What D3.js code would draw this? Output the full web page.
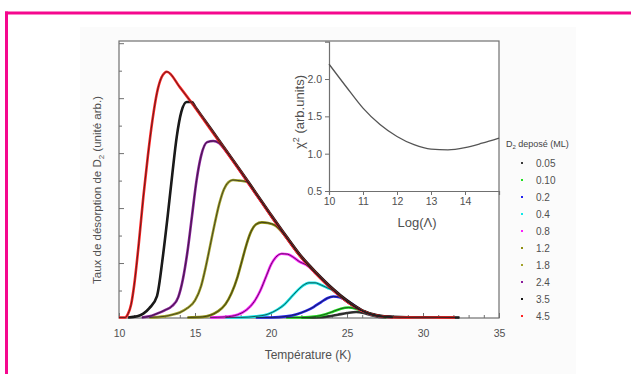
<!DOCTYPE html>
<html>
<head>
<meta charset="utf-8">
<script src="https://cdnjs.cloudflare.com/ajax/libs/d3/7.8.5/d3.min.js"></script>
<style>
  body { margin: 0; background: #fff; }
  svg { display: block; font-family: "Liberation Sans", Arial, sans-serif; }
</style>
</head>
<body>
<div id="chart"></div>
<script>
// coverages (ML) and their colours, legend order
const coverages = ['0.05', '0.10', '0.2', '0.4', '0.8', '1.2', '1.8', '2.4', '3.5', '4.5'];
const colors = ['#3a3a3a', '#1fe01f', '#2222ee', '#10e8e8', '#ff1cff', '#8e8e10', '#a2a22a', '#8b1c9c', '#161616', '#ff2222'];

// desorption spectra: temperature (K) / rate (arb.)
const t005 = [22, 23, 23.8, 24.4, 25.0, 25.6, 26.1, 26.6, 27.1, 27.6];
const r005 = [0.005, 0.01, 0.03, 0.06, 0.09, 0.11, 0.09, 0.05, 0.02, 0.01];
const t010 = [21, 22, 23, 23.6, 24.1, 24.6, 25.1, 25.6, 26.1, 26.6, 27, 27.5, 28];
const r010 = [0.01, 0.01, 0.03, 0.07, 0.12, 0.17, 0.19, 0.17, 0.12, 0.07, 0.04, 0.02, 0.01];
const t02 = [19, 20, 21, 21.7, 22.3, 22.8, 23.3, 23.7, 24.1, 24.5, 24.9, 25.3, 26, 27, 28];
const r02 = [0.01, 0.01, 0.03, 0.07, 0.13, 0.2, 0.29, 0.36, 0.39, 0.38, 0.33, 0.26, 0.13, 0.04, 0.015];
const t04 = [17, 18, 19, 19.8, 20.4, 20.9, 21.3, 21.7, 22.1, 22.5, 22.9, 23.3, 23.7, 24.1, 25, 26, 27, 28];
const r04 = [0.01, 0.01, 0.03, 0.07, 0.15, 0.25, 0.37, 0.49, 0.59, 0.64, 0.64, 0.6, 0.55, 0.5, 0.3, 0.13, 0.04, 0.015];
const t08 = [16, 17, 17.8, 18.4, 18.9, 19.3, 19.7, 20.0, 20.3, 20.7, 21.1, 21.5, 21.9, 22.3, 23, 24, 25, 26, 27, 28];
const r08 = [0.01, 0.02, 0.06, 0.15, 0.3, 0.5, 0.77, 0.97, 1.1, 1.17, 1.16, 1.1, 1.02, 0.97, 0.8, 0.53, 0.3, 0.13, 0.04, 0.015];
const t12 = [14.5, 15.5, 16, 16.5, 17, 17.4, 17.8, 18.1, 18.4, 18.7, 19, 19.4, 19.8, 20.3, 21, 22, 23, 24, 25, 26, 27, 28];
const r12 = [0.01, 0.02, 0.05, 0.12, 0.25, 0.45, 0.75, 1.05, 1.35, 1.58, 1.7, 1.74, 1.73, 1.68, 1.47, 1.1, 0.8, 0.53, 0.3, 0.13, 0.04, 0.015];
const t18 = [12, 13, 13.5, 14, 14.5, 15, 15.4, 15.7, 16, 16.3, 16.6, 16.9, 17.2, 17.5, 17.9, 18.4, 19, 20, 21, 22, 23, 24, 25, 26, 27, 28];
const r18 = [0.01, 0.03, 0.06, 0.1, 0.18, 0.32, 0.58, 0.92, 1.32, 1.72, 2.08, 2.34, 2.47, 2.51, 2.5, 2.48, 2.26, 1.86, 1.47, 1.1, 0.8, 0.53, 0.3, 0.13, 0.04, 0.015];
const t24 = [11.5, 12, 12.5, 13, 13.5, 13.9, 14.2, 14.5, 14.8, 15.1, 15.4, 15.8, 16.2, 16.6, 17, 18, 19, 20, 21, 22, 23, 24, 25, 26, 27, 28];
const r24 = [0.01, 0.03, 0.08, 0.14, 0.22, 0.38, 0.7, 1.2, 1.85, 2.5, 2.95, 3.2, 3.22, 3.18, 3.05, 2.66, 2.26, 1.86, 1.47, 1.1, 0.8, 0.53, 0.3, 0.13, 0.04, 0.015];
const t35 = [10.6, 11.2, 11.6, 12, 12.5, 12.9, 13.2, 13.5, 13.8, 14.1, 14.45, 14.8, 15, 16, 17, 18, 19, 20, 21, 22, 23, 24, 25, 26, 27, 28, 29, 30, 31, 32.4];
const r35 = [0.01, 0.03, 0.08, 0.18, 0.4, 1.15, 1.85, 2.6, 3.3, 3.75, 3.93, 3.93, 3.85, 3.46, 3.07, 2.68, 2.28, 1.88, 1.49, 1.12, 0.82, 0.55, 0.32, 0.14, 0.05, 0.02, 0.015, 0.015, 0.015, 0.01];
const t45 = [10, 10.4, 10.6, 10.8, 11, 11.3, 11.6, 11.9, 12.2, 12.5, 12.8, 13, 13.15, 14, 15, 16, 17, 18, 19, 20, 21, 22, 23, 24, 25, 26, 27, 28, 29, 30, 31, 32.1];
const r45 = [0.01, 0.01, 0.08, 0.25, 0.6, 1.35, 2.2, 2.95, 3.6, 4.1, 4.38, 4.46, 4.48, 4.2, 3.83, 3.44, 3.05, 2.66, 2.26, 1.86, 1.47, 1.1, 0.8, 0.53, 0.3, 0.13, 0.04, 0.015, 0.012, 0.015, 0.012, 0.01];

// inset: chi^2 against log(Lambda)
const logLambda = [10, 10.5, 11, 11.5, 12, 12.5, 13, 13.5, 14, 14.5, 15];
const chi2 = [2.2, 1.9, 1.61, 1.39, 1.23, 1.12, 1.06, 1.05, 1.08, 1.14, 1.21];

// tick labels
const xTicks = [10, 15, 20, 25, 30, 35];
const yTicks = [1, 2, 3, 4, 5];
const insetXTicks = [10, 11, 12, 13, 14];
const insetYTicks = [0.5, 1.0, 1.5, 2.0];

const series = [[t005, r005], [t010, r010], [t02, r02], [t04, r04], [t08, r08],
                [t12, r12], [t18, r18], [t24, r24], [t35, r35], [t45, r45]]
  .map((s, i) => ({ cov: coverages[i], color: colors[i], pts: d3.zip(s[0], s[1]) }));

const width = 631, height = 374;
const axisColor = '#707070', textColor = '#505050';

const svg = d3.select('#chart').append('svg')
  .attr('width', width).attr('height', height);

// faint panel behind the figure
svg.append('rect')
  .attr('x', 80).attr('y', 27).attr('width', 496).attr('height', 347)
  .attr('fill', '#fbfbfb');

// pink page frame
svg.append('line').attr('x1', 5).attr('x2', width).attr('y1', 13).attr('y2', 13)
  .attr('stroke', '#f5088e').attr('stroke-width', 3);
svg.append('line').attr('x1', 6.5).attr('x2', 6.5).attr('y1', 11.5).attr('y2', height)
  .attr('stroke', '#f5088e').attr('stroke-width', 3);

// main plot
const x = d3.scaleLinear().domain([10, 35]).range([119, 499]);
const y = d3.scaleLinear().domain([0, 5.04]).range([318, 41]);

svg.append('rect')
  .attr('x', x(10)).attr('y', y(5.04)).attr('width', x(35) - x(10)).attr('height', y(0) - y(5.04))
  .attr('fill', '#fff').attr('stroke', axisColor).attr('stroke-width', 1.2);

function styleAxis(g) {
  g.select('.domain').remove();
  g.selectAll('.tick line').attr('stroke', axisColor).attr('stroke-width', 1);
  g.selectAll('.tick text').attr('fill', textColor).attr('font-size', 10.5);
}

const xMinor = d3.range(11, 35).filter(v => v % 5 !== 0);
const yMinor = d3.range(0.5, 5, 1);

svg.append('g').attr('transform', `translate(0,${y(0)})`)
  .call(d3.axisBottom(x).tickValues(xTicks).tickSize(-5).tickPadding(12).tickFormat(d3.format('d')))
  .call(styleAxis);
svg.append('g').attr('transform', `translate(0,${y(0)})`)
  .call(d3.axisBottom(x).tickValues(xMinor).tickSize(-3).tickFormat(''))
  .call(styleAxis);
svg.append('g').attr('transform', `translate(${x(10)},0)`)
  .call(d3.axisLeft(y).tickValues(yTicks).tickSize(-5).tickFormat(''))
  .call(styleAxis);
svg.append('g').attr('transform', `translate(${x(10)},0)`)
  .call(d3.axisLeft(y).tickValues(yMinor).tickSize(-3).tickFormat(''))
  .call(styleAxis);

// data (coloured) then fits (thin black)
const line = d3.line()
  .x(d => x(d[0]))
  .y(d => y(d[1]))
  .curve(d3.curveMonotoneX);

svg.append('g').selectAll('path')
  .data(series)
  .enter()
  .append('path')
  .attr('d', d => line(d.pts))
  .attr('fill', 'none')
  .attr('stroke', d => d.color)
  .attr('stroke-width', 2.6)
  .attr('stroke-linejoin', 'round');

svg.append('g').selectAll('path')
  .data(series)
  .enter()
  .append('path')
  .attr('d', d => line(d.pts))
  .attr('fill', 'none')
  .attr('stroke', '#202020')
  .attr('stroke-opacity', 0.8)
  .attr('stroke-width', 0.9);

// axis titles
svg.append('text')
  .attr('x', 308).attr('y', 359)
  .attr('text-anchor', 'middle').attr('font-size', 12).attr('fill', textColor)
  .text('Température (K)');

const yTitle = svg.append('text')
  .attr('transform', 'translate(101,190) rotate(-90)')
  .attr('text-anchor', 'middle').attr('font-size', 11.5).attr('fill', textColor);
yTitle.append('tspan').text('Taux de désorption de D');
yTitle.append('tspan').attr('font-size', 8).attr('dy', 3).text('2');
yTitle.append('tspan').attr('dy', -3).text(' (unité arb.)');

// inset
const xi = d3.scaleLinear().domain([10, 15]).range([329, 499]);
const yi = d3.scaleLinear().domain([0.5, 2.5]).range([191, 41.7]);

svg.append('g').attr('transform', `translate(0,${yi(0.5)})`)
  .call(d3.axisBottom(xi).tickValues(insetXTicks).tickSize(4).tickPadding(3).tickFormat(d3.format('d')))
  .call(g => g.select('.domain').attr('stroke', axisColor).attr('stroke-width', 1.2))
  .call(g => g.selectAll('.tick line').attr('stroke', axisColor))
  .call(g => g.selectAll('.tick text').attr('fill', textColor).attr('font-size', 10.5));
svg.append('g').attr('transform', `translate(${xi(10)},0)`)
  .call(d3.axisLeft(yi).tickValues(insetYTicks).tickSize(4).tickPadding(3).tickFormat(d3.format('.1f')))
  .call(g => g.select('.domain').attr('stroke', axisColor).attr('stroke-width', 1.2))
  .call(g => g.selectAll('.tick line').attr('stroke', axisColor))
  .call(g => g.selectAll('.tick text').attr('fill', textColor).attr('font-size', 10.5));

svg.append('path')
  .attr('d', d3.line().x(d => xi(d[0])).y(d => yi(d[1])).curve(d3.curveMonotoneX)(d3.zip(logLambda, chi2)))
  .attr('fill', 'none').attr('stroke', '#555').attr('stroke-width', 1.3);

svg.append('text')
  .attr('x', 417).attr('y', 227)
  .attr('text-anchor', 'middle').attr('font-size', 13).attr('fill', textColor)
  .text('Log(Λ)');

const chiTitle = svg.append('text')
  .attr('transform', 'translate(304,112) rotate(-90)')
  .attr('text-anchor', 'middle').attr('font-size', 13).attr('fill', textColor);
chiTitle.append('tspan').text('χ');
chiTitle.append('tspan').attr('font-size', 9).attr('dy', -5).text('2');
chiTitle.append('tspan').attr('dy', 5).text(' (arb.units)');

// legend
const lg = svg.append('g');
const legTitle = lg.append('text')
  .attr('x', 506).attr('y', 147)
  .attr('font-size', 9).attr('fill', '#444');
legTitle.append('tspan').text('D');
legTitle.append('tspan').attr('font-size', 6).attr('dy', 2).text('2');
legTitle.append('tspan').attr('dy', -2).text(' deposé (ML)');

const rowY = d3.scalePoint().domain(coverages).range([163, 316]);
lg.selectAll('rect')
  .data(series)
  .enter()
  .append('rect')
  .attr('x', 521).attr('y', d => rowY(d.cov) - 1)
  .attr('width', 2).attr('height', 2)
  .attr('fill', d => d.color);
lg.selectAll('text.lab')
  .data(series)
  .enter()
  .append('text')
  .attr('class', 'lab')
  .attr('x', 536).attr('y', d => rowY(d.cov) + 3.5)
  .attr('font-size', 10).attr('fill', textColor)
  .text(d => d.cov);
</script>
</body>
</html>
